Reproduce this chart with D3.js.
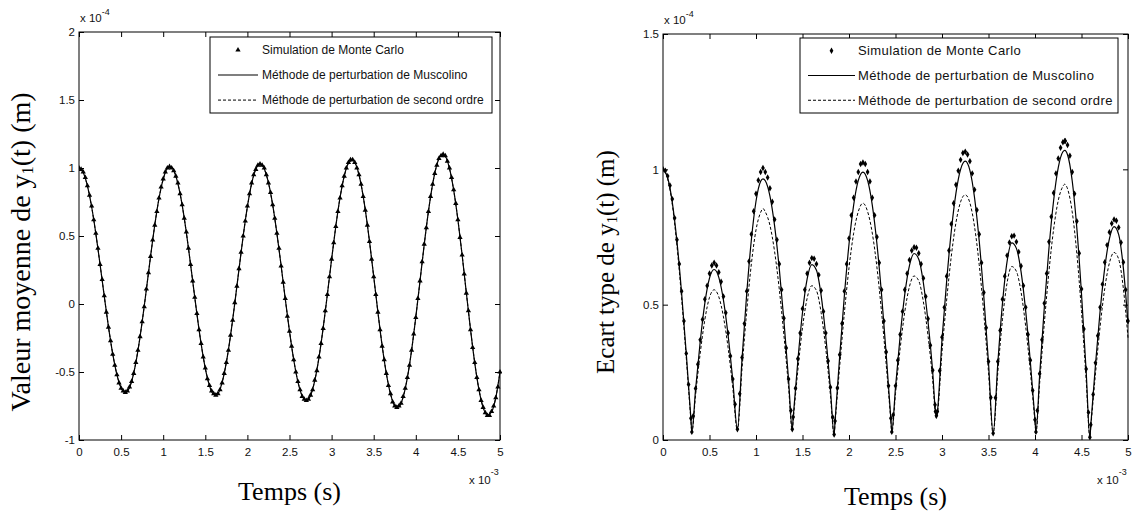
<!DOCTYPE html>
<html><head><meta charset="utf-8">
<script src="https://cdn.jsdelivr.net/npm/d3@7"></script>
<style>body{margin:0;background:#fff}</style>
</head><body>
<svg id="chart" width="1132" height="513"></svg>
<script>
// ---------- data ----------
const xTicks = [0,0.5,1,1.5,2,2.5,3,3.5,4,4.5,5];
const xTickLabels = ["0","0.5","1","1.5","2","2.5","3","3.5","4","4.5","5"];
const meanYTicks = [-1,-0.5,0,0.5,1,1.5,2];
const meanYTickLabels = ["-1","-0.5","0","0.5","1","1.5","2"];
const stdYTicks = [0,0.5,1,1.5];
const stdYTickLabels = ["0","0.5","1","1.5"];
const legendLabels = ["Simulation de Monte Carlo","Méthode de perturbation de Muscolino","Méthode de perturbation de second ordre"];

// time (x 1e-3 s) for the perturbation curves of the mean
const tMean = [0,0.05,0.1,0.15,0.2,0.25,0.3,0.35,0.4,0.45,
  0.5,0.55,0.6,0.65,0.7,0.75,0.8,0.85,0.9,0.95,
  1,1.05,1.1,1.15,1.2,1.25,1.3,1.35,1.4,1.45,
  1.5,1.55,1.6,1.65,1.7,1.75,1.8,1.85,1.9,1.95,
  2,2.05,2.1,2.15,2.2,2.25,2.3,2.35,2.4,2.45,
  2.5,2.55,2.6,2.65,2.7,2.75,2.8,2.85,2.9,2.95,
  3,3.05,3.1,3.15,3.2,3.25,3.3,3.35,3.4,3.45,
  3.5,3.55,3.6,3.65,3.7,3.75,3.8,3.85,3.9,3.95,
  4,4.05,4.1,4.15,4.2,4.25,4.3,4.35,4.4,4.45,
  4.5,4.55,4.6,4.65,4.7,4.75,4.8,4.85,4.9,4.95,
  5];
// mean of y1(t) (x 1e-4 m)
const meanMuscolino = [1.000,0.967,0.869,0.715,0.518,0.292,0.058,-0.168,-0.365,-0.519,
  -0.617,-0.650,-0.614,-0.508,-0.343,-0.132,0.106,0.351,0.581,0.776,
  0.918,0.997,1.004,0.941,0.813,0.632,0.411,0.170,-0.071,-0.292,
  -0.473,-0.601,-0.664,-0.657,-0.576,-0.430,-0.231,0.005,0.255,0.500,
  0.716,0.885,0.993,1.030,0.995,0.892,0.730,0.521,0.284,0.036,
  -0.201,-0.410,-0.572,-0.675,-0.710,-0.673,-0.564,-0.394,-0.176,0.072,
  0.329,0.572,0.782,0.941,1.036,1.058,1.005,0.880,0.693,0.461,
  0.203,-0.060,-0.305,-0.511,-0.663,-0.746,-0.754,-0.684,-0.542,-0.341,
  -0.097,0.170,0.437,0.681,0.882,1.024,1.094,1.085,0.998,0.838,
  0.620,0.361,0.084,-0.188,-0.433,-0.630,-0.762,-0.818,-0.794,-0.689,
  -0.500];
const meanSecondOrder = [1.000,0.966,0.868,0.714,0.517,0.291,0.058,-0.167,-0.364,-0.518,
  -0.616,-0.649,-0.613,-0.507,-0.342,-0.132,0.106,0.350,0.580,0.775,
  0.917,0.996,1.003,0.940,0.812,0.631,0.410,0.170,-0.071,-0.291,
  -0.472,-0.600,-0.663,-0.656,-0.575,-0.429,-0.230,0.005,0.254,0.499,
  0.715,0.884,0.992,1.029,0.994,0.891,0.729,0.520,0.283,0.036,
  -0.200,-0.409,-0.571,-0.674,-0.709,-0.672,-0.563,-0.393,-0.175,0.072,
  0.328,0.571,0.781,0.940,1.035,1.057,1.004,0.879,0.692,0.460,
  0.202,-0.060,-0.304,-0.510,-0.662,-0.745,-0.753,-0.683,-0.541,-0.340,
  -0.097,0.169,0.436,0.680,0.881,1.023,1.093,1.084,0.997,0.837,
  0.619,0.360,0.084,-0.187,-0.432,-0.629,-0.761,-0.817,-0.793,-0.688,
  -0.499];
// Monte Carlo samples of the mean
const tMeanMC = [0,0.025,0.05,0.075,0.1,0.125,0.15,0.175,0.2,0.225,0.25,0.275,0.3,0.325,0.35,0.375,0.4,0.425,0.45,0.475,
  0.5,0.525,0.55,0.575,0.6,0.625,0.65,0.675,0.7,0.725,0.75,0.775,0.8,0.825,0.85,0.875,0.9,0.925,0.95,0.975,
  1,1.025,1.05,1.075,1.1,1.125,1.15,1.175,1.2,1.225,1.25,1.275,1.3,1.325,1.35,1.375,1.4,1.425,1.45,1.475,
  1.5,1.525,1.55,1.575,1.6,1.625,1.65,1.675,1.7,1.725,1.75,1.775,1.8,1.825,1.85,1.875,1.9,1.925,1.95,1.975,
  2,2.025,2.05,2.075,2.1,2.125,2.15,2.175,2.2,2.225,2.25,2.275,2.3,2.325,2.35,2.375,2.4,2.425,2.45,2.475,
  2.5,2.525,2.55,2.575,2.6,2.625,2.65,2.675,2.7,2.725,2.75,2.775,2.8,2.825,2.85,2.875,2.9,2.925,2.95,2.975,
  3,3.025,3.05,3.075,3.1,3.125,3.15,3.175,3.2,3.225,3.25,3.275,3.3,3.325,3.35,3.375,3.4,3.425,3.45,3.475,
  3.5,3.525,3.55,3.575,3.6,3.625,3.65,3.675,3.7,3.725,3.75,3.775,3.8,3.825,3.85,3.875,3.9,3.925,3.95,3.975,
  4,4.025,4.05,4.075,4.1,4.125,4.15,4.175,4.2,4.225,4.25,4.275,4.3,4.325,4.35,4.375,4.4,4.425,4.45,4.475,
  4.5,4.525,4.55,4.575,4.6,4.625,4.65,4.675,4.7,4.725,4.75,4.775,4.8,4.825,4.85,4.875,4.9,4.925,4.95,4.975,
  5];
const meanMonteCarlo = [1.00,0.99,0.97,0.93,0.87,0.80,0.72,0.62,0.52,0.41,0.29,0.18,0.06,-0.06,-0.17,-0.27,-0.37,-0.45,-0.52,-0.58,
  -0.62,-0.64,-0.65,-0.64,-0.61,-0.57,-0.51,-0.43,-0.34,-0.24,-0.13,-0.02,0.11,0.23,0.35,0.47,0.58,0.68,0.78,0.86,
  0.92,0.97,1.00,1.01,1.00,0.98,0.94,0.89,0.81,0.73,0.63,0.53,0.41,0.29,0.17,0.05,-0.07,-0.19,-0.29,-0.39,
  -0.47,-0.55,-0.60,-0.64,-0.66,-0.67,-0.66,-0.63,-0.58,-0.51,-0.43,-0.34,-0.23,-0.12,0.01,0.13,0.26,0.38,0.50,0.61,
  0.72,0.81,0.89,0.95,0.99,1.02,1.03,1.02,1.00,0.95,0.89,0.82,0.73,0.63,0.52,0.41,0.28,0.16,0.04,-0.09,
  -0.20,-0.31,-0.41,-0.50,-0.57,-0.63,-0.68,-0.70,-0.71,-0.70,-0.67,-0.63,-0.56,-0.49,-0.39,-0.29,-0.18,-0.05,0.07,0.20,
  0.33,0.45,0.57,0.68,0.78,0.87,0.94,1.00,1.04,1.06,1.06,1.04,1.00,0.95,0.88,0.79,0.69,0.58,0.46,0.33,
  0.20,0.07,-0.06,-0.19,-0.31,-0.41,-0.51,-0.60,-0.66,-0.72,-0.75,-0.76,-0.75,-0.73,-0.68,-0.62,-0.54,-0.45,-0.34,-0.22,
  -0.10,0.04,0.17,0.31,0.44,0.56,0.68,0.79,0.88,0.96,1.02,1.07,1.09,1.10,1.09,1.05,1.00,0.93,0.84,0.74,
  0.62,0.49,0.36,0.22,0.08,-0.05,-0.19,-0.32,-0.43,-0.54,-0.63,-0.71,-0.76,-0.80,-0.82,-0.82,-0.79,-0.75,-0.69,-0.61,
  -0.50];

// standard deviation of y1(t) (x 1e-4 m)
const tStd = [0,0.05,0.1,0.15,0.2,0.25,0.3,0.31,0.35,0.4,
  0.45,0.5,0.55,0.6,0.65,0.7,0.75,0.8,0.85,0.9,
  0.95,1,1.05,1.075,1.1,1.15,1.2,1.25,1.3,1.35,
  1.39,1.4,1.45,1.5,1.55,1.6,1.65,1.7,1.75,1.8,
  1.84,1.85,1.9,1.95,2,2.05,2.1,2.15,2.2,2.25,
  2.3,2.35,2.4,2.45,2.46,2.5,2.55,2.6,2.65,2.7,
  2.75,2.8,2.85,2.9,2.93,2.94,2.95,3,3.05,3.1,
  3.15,3.2,3.25,3.3,3.35,3.4,3.45,3.5,3.55,3.6,
  3.65,3.7,3.75,3.8,3.85,3.9,3.95,4,4.01,4.05,
  4.1,4.15,4.2,4.25,4.3,4.32,4.35,4.4,4.45,4.5,
  4.55,4.59,4.6,4.65,4.7,4.75,4.8,4.85,4.9,4.95,
  5];
const stdMuscolino = [1.000,0.969,0.878,0.733,0.543,0.320,0.079,0.030,0.185,0.363,
  0.506,0.598,0.630,0.601,0.517,0.387,0.222,0.040,0.301,0.540,
  0.739,0.882,0.956,0.965,0.958,0.901,0.791,0.634,0.441,0.223,
  0.040,0.083,0.293,0.471,0.595,0.648,0.627,0.535,0.384,0.190,
  0.020,0.069,0.310,0.533,0.723,0.868,0.959,0.990,0.959,0.869,
  0.726,0.538,0.317,0.079,0.030,0.194,0.384,0.539,0.644,0.689,
  0.668,0.580,0.436,0.251,0.105,0.090,0.105,0.371,0.587,0.772,
  0.912,1.000,1.030,0.996,0.895,0.736,0.528,0.285,0.025,0.283,
  0.504,0.660,0.728,0.708,0.622,0.476,0.288,0.074,0.030,0.239,
  0.489,0.708,0.884,1.006,1.065,1.070,1.054,0.958,0.782,0.540,
  0.255,0.010,0.055,0.277,0.476,0.636,0.743,0.788,0.759,0.636,
  0.430];
const stdSecondOrder = [1.000,0.965,0.870,0.718,0.525,0.305,0.072,0.027,0.165,0.320,
  0.445,0.527,0.555,0.529,0.455,0.341,0.195,0.035,0.265,0.475,
  0.650,0.776,0.841,0.855,0.843,0.793,0.696,0.558,0.388,0.196,
  0.035,0.073,0.258,0.415,0.524,0.570,0.552,0.471,0.338,0.167,
  0.018,0.061,0.273,0.469,0.636,0.764,0.844,0.875,0.844,0.765,
  0.639,0.473,0.279,0.070,0.026,0.171,0.338,0.474,0.567,0.606,
  0.588,0.510,0.384,0.221,0.095,0.080,0.095,0.326,0.517,0.679,
  0.803,0.880,0.906,0.876,0.788,0.648,0.465,0.251,0.022,0.249,
  0.444,0.581,0.641,0.623,0.547,0.419,0.253,0.065,0.026,0.210,
  0.430,0.623,0.778,0.885,0.937,0.945,0.928,0.843,0.688,0.475,
  0.224,0.009,0.048,0.244,0.419,0.560,0.654,0.693,0.668,0.560,
  0.378];
// Monte Carlo samples of the standard deviation
const tStdMC = [0,0.025,0.05,0.075,0.1,0.125,0.15,0.175,0.2,0.225,0.25,0.275,0.3,0.31,0.325,0.35,0.375,0.4,0.425,0.45,
  0.475,0.5,0.525,0.55,0.575,0.6,0.625,0.65,0.675,0.7,0.725,0.75,0.775,0.8,0.825,0.85,0.875,0.9,0.925,0.95,
  0.975,1,1.025,1.05,1.075,1.1,1.125,1.15,1.175,1.2,1.225,1.25,1.275,1.3,1.325,1.35,1.375,1.39,1.4,1.425,
  1.45,1.475,1.5,1.525,1.55,1.575,1.6,1.625,1.65,1.675,1.7,1.725,1.75,1.775,1.8,1.825,1.84,1.85,1.875,1.9,
  1.925,1.95,1.975,2,2.025,2.05,2.075,2.1,2.125,2.15,2.175,2.2,2.225,2.25,2.275,2.3,2.325,2.35,2.375,2.4,
  2.425,2.45,2.46,2.475,2.5,2.525,2.55,2.575,2.6,2.625,2.65,2.675,2.7,2.725,2.75,2.775,2.8,2.825,2.85,2.875,
  2.9,2.925,2.93,2.94,2.95,2.975,3,3.025,3.05,3.075,3.1,3.125,3.15,3.175,3.2,3.225,3.25,3.275,3.3,3.325,
  3.35,3.375,3.4,3.425,3.45,3.475,3.5,3.525,3.55,3.575,3.6,3.625,3.65,3.675,3.7,3.725,3.75,3.775,3.8,3.825,
  3.85,3.875,3.9,3.925,3.95,3.975,4,4.01,4.025,4.05,4.075,4.1,4.125,4.15,4.175,4.2,4.225,4.25,4.275,4.3,
  4.32,4.325,4.35,4.375,4.4,4.425,4.45,4.475,4.5,4.525,4.55,4.575,4.59,4.6,4.625,4.65,4.675,4.7,4.725,4.75,
  4.775,4.8,4.825,4.85,4.875,4.9,4.925,4.95,4.975,5];
const stdMonteCarlo = [1.000,0.995,0.975,0.940,0.890,0.820,0.740,0.650,0.550,0.440,0.320,0.205,0.080,0.030,0.089,0.190,0.280,0.370,0.445,0.520,
  0.570,0.615,0.645,0.655,0.645,0.620,0.585,0.530,0.470,0.395,0.310,0.225,0.132,0.040,0.171,0.305,0.430,0.550,0.660,0.760,
  0.845,0.910,0.960,0.990,1.005,0.990,0.970,0.930,0.880,0.815,0.740,0.650,0.555,0.450,0.340,0.225,0.109,0.040,0.085,0.191,
  0.300,0.395,0.485,0.555,0.615,0.655,0.672,0.670,0.650,0.610,0.552,0.475,0.395,0.292,0.195,0.084,0.020,0.070,0.192,0.315,
  0.430,0.550,0.650,0.745,0.830,0.895,0.955,0.990,1.020,1.025,1.020,0.990,0.955,0.895,0.830,0.750,0.655,0.555,0.440,0.325,
  0.200,0.080,0.030,0.092,0.200,0.295,0.390,0.475,0.555,0.615,0.665,0.700,0.712,0.710,0.690,0.650,0.598,0.530,0.448,0.350,
  0.258,0.130,0.105,0.090,0.105,0.256,0.380,0.490,0.605,0.700,0.798,0.875,0.943,0.995,1.035,1.060,1.065,1.055,1.030,0.985,
  0.925,0.850,0.760,0.655,0.545,0.415,0.290,0.157,0.025,0.156,0.290,0.405,0.520,0.605,0.682,0.730,0.753,0.755,0.732,0.695,
  0.643,0.570,0.490,0.390,0.295,0.183,0.075,0.030,0.109,0.245,0.370,0.505,0.615,0.732,0.825,0.913,0.985,1.040,1.080,1.100,
  1.105,1.105,1.090,1.050,0.990,0.910,0.808,0.690,0.558,0.410,0.262,0.102,0.010,0.056,0.168,0.285,0.385,0.490,0.575,0.657,
  0.720,0.768,0.800,0.815,0.810,0.785,0.730,0.657,0.555,0.440];

// ---------- drawing ----------
const svg = d3.select("#chart");
const SANS = "'Liberation Sans', Arial, sans-serif";
const SERIF = "'Liberation Serif', 'Times New Roman', serif";

function panel(o) {
  const x = d3.scaleLinear().domain([0, 5]).range([o.x0, o.x1]);
  const y = d3.scaleLinear().domain(o.yDomain).range([o.y1, o.y0]);
  const g = svg.append("g");

  const styleAxis = sel => {
    sel.select(".domain").remove();
    sel.selectAll(".tick line").attr("stroke", "#000").attr("stroke-width", 1);
    sel.selectAll(".tick text").attr("font-family", SANS).attr("font-size", 11.5).attr("fill", "#111");
  };
  g.append("g").attr("transform", `translate(0,${o.y1})`)
    .call(d3.axisBottom(x).tickValues(xTicks).tickFormat((d, i) => xTickLabels[i]).tickSizeInner(-5).tickSizeOuter(0).tickPadding(8))
    .call(styleAxis);
  g.append("g").attr("transform", `translate(0,${o.y0})`)
    .call(d3.axisTop(x).tickValues(xTicks).tickFormat("").tickSizeInner(-5).tickSizeOuter(0))
    .call(styleAxis);
  g.append("g").attr("transform", `translate(${o.x0},0)`)
    .call(d3.axisLeft(y).tickValues(o.yTicks).tickFormat((d, i) => o.yTickLabels[i]).tickSizeInner(-5).tickSizeOuter(0).tickPadding(4))
    .call(styleAxis);
  g.append("g").attr("transform", `translate(${o.x1},0)`)
    .call(d3.axisRight(y).tickValues(o.yTicks).tickFormat("").tickSizeInner(-5).tickSizeOuter(0))
    .call(styleAxis);

  g.append("rect").attr("x", o.x0).attr("y", o.y0).attr("width", o.x1 - o.x0).attr("height", o.y1 - o.y0)
    .attr("fill", "none").attr("stroke", "#000").attr("stroke-width", 1);

  const clipId = "clip" + o.id;
  svg.append("clipPath").attr("id", clipId).append("rect")
    .attr("x", o.x0).attr("y", o.y0 - 4).attr("width", o.x1 - o.x0 + 2).attr("height", o.y1 - o.y0 + 4);
  const plot = g.append("g").attr("clip-path", `url(#${clipId})`);

  const line = d3.line().x(d => x(d[0])).y(d => y(d[1])).curve(d3.curveMonotoneX);
  plot.append("path").datum(o.t.map((t, i) => [t, o.second[i]]))
    .attr("d", line).attr("fill", "none").attr("stroke", "#000").attr("stroke-width", 1)
    .attr("stroke-dasharray", "3,2");
  plot.append("path").datum(o.t.map((t, i) => [t, o.musc[i]]))
    .attr("d", line).attr("fill", "none").attr("stroke", "#000").attr("stroke-width", 1.2);
  const sym = d3.symbol().type(o.symbol).size(o.symSize);
  plot.selectAll(".mc").data(o.tmc.map((t, i) => [t, o.mc[i]])).join("path")
    .attr("transform", d => `translate(${x(d[0])},${y(d[1])})`)
    .attr("d", sym).attr("fill", "#000");

  // exponent labels
  const e1 = g.append("text").attr("x", o.x0 + 1).attr("y", o.y0 - 10)
    .attr("font-family", SANS).attr("font-size", 11.5).attr("fill", "#111");
  e1.append("tspan").text("x 10");
  e1.append("tspan").attr("dy", -7).attr("font-size", 9).text("-4");
  const e2 = g.append("text").attr("x", o.x1 - 31).attr("y", o.y1 + 44)
    .attr("font-family", SANS).attr("font-size", 11.5).attr("fill", "#111");
  e2.append("tspan").text("x 10");
  e2.append("tspan").attr("dy", -9).attr("font-size", 9).text("-3");

  // axis titles
  g.append("text").attr("x", (o.x0 + o.x1) / 2).attr("y", o.xlabY).attr("text-anchor", "middle")
    .attr("font-family", SERIF).attr("font-size", 26).attr("fill", "#000").text("Temps (s)");
  const yl = g.append("text").attr("transform", `translate(${o.ylabX},${o.ylabY}) rotate(-90)`)
    .attr("text-anchor", "middle").attr("font-family", SERIF).attr("font-size", o.ylabFs).attr("fill", "#000");
  yl.append("tspan").text(o.ylabPre + " y");
  yl.append("tspan").attr("font-size", o.ylabFs * 0.58).attr("dy", 3).text("1");
  yl.append("tspan").attr("dy", -3).text("(t) (m)");

  // legend
  const L = o.legend;
  g.append("rect").attr("x", L.x).attr("y", L.y).attr("width", L.w).attr("height", L.h)
    .attr("fill", "#fff").attr("stroke", "#000").attr("stroke-width", 1);
  const rows = [L.y + L.h * 0.17, L.y + L.h * 0.5, L.y + L.h * 0.83];
  g.append("path").attr("transform", `translate(${(L.lx0 + L.lx1) / 2},${rows[0]})`)
    .attr("d", sym).attr("fill", "#000");
  g.append("line").attr("x1", L.lx0).attr("x2", L.lx1).attr("y1", rows[1]).attr("y2", rows[1])
    .attr("stroke", "#000").attr("stroke-width", 1.1);
  g.append("line").attr("x1", L.lx0).attr("x2", L.lx1).attr("y1", rows[2]).attr("y2", rows[2])
    .attr("stroke", "#000").attr("stroke-width", 1).attr("stroke-dasharray", "3,2");
  legendLabels.forEach((s, i) => {
    g.append("text").attr("x", L.tx).attr("y", rows[i]).attr("dy", "0.35em")
      .attr("font-family", SANS).attr("font-size", L.fs).attr("letter-spacing", L.ls)
      .attr("fill", "#111").text(s);
  });
}

panel({
  id: "A", x0: 79, x1: 500, y0: 32, y1: 440, yDomain: [-1, 2],
  yTicks: meanYTicks, yTickLabels: meanYTickLabels,
  t: tMean, musc: meanMuscolino, second: meanSecondOrder, tmc: tMeanMC, mc: meanMonteCarlo,
  symbol: d3.symbolTriangle, symSize: 12,
  xlabY: 500, ylabX: 30, ylabY: 252, ylabFs: 28, ylabPre: "Valeur moyenne de",
  legend: { x: 210, y: 37, w: 282, h: 76, lx0: 218, lx1: 258, tx: 262, fs: 12, ls: 0.02 }
});
panel({
  id: "B", x0: 663, x1: 1128, y0: 34, y1: 440, yDomain: [0, 1.5],
  yTicks: stdYTicks, yTickLabels: stdYTickLabels,
  t: tStd, musc: stdMuscolino, second: stdSecondOrder, tmc: tStdMC, mc: stdMonteCarlo,
  symbol: d3.symbolDiamond, symSize: 12,
  xlabY: 505, ylabX: 614, ylabY: 262, ylabFs: 25, ylabPre: "Ecart type de",
  legend: { x: 800, y: 38, w: 318, h: 75, lx0: 808, lx1: 855, tx: 858, fs: 13, ls: 0.4 }
});
</script>
</body></html>
